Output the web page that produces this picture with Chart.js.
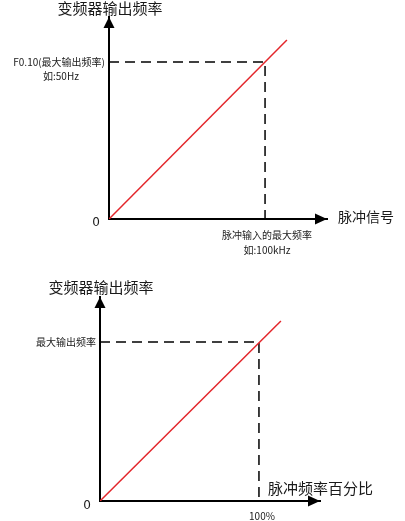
<!DOCTYPE html>
<html><head><meta charset="utf-8">
<script src="https://cdn.jsdelivr.net/npm/chart.js@4/dist/chart.umd.min.js"></script>
<style>
html,body{margin:0;padding:0;background:#fff;width:405px;height:521px;overflow:hidden}
canvas{display:block;position:absolute;left:0}
#c1{top:0}
#c2{top:260px}
</style></head>
<body>
<canvas id="c1" width="405" height="260"></canvas>
<canvas id="c2" width="405" height="261"></canvas>
<script>
// ---- Chart 1 data (pulse input kHz -> output Hz) ----
const topLineX = [0, 114];
const topLineY = [0, 57];
const topDashX = [0, 100, 100];
const topDashY = [50, 50, 0];
const topXMax = 139.7;
const topYMax = 64.3;
const topTitle = '变频器输出频率';
const topXName = '脉冲信号';
const topYRefLabels = ['F0.10(最大输出频率)', '如:50Hz'];
const topXRefLabels = ['脉冲输入的最大频率', '如:100kHz'];

// ---- Chart 2 data (pulse percent -> output) ----
const botLineX = [0, 113.8];
const botLineY = [0, 113.2];
const botDashX = [0, 100, 100];
const botDashY = [100, 100, 0];
const botXMax = 138.4;
const botYMax = 128.3;
const botTitle = '变频器输出频率';
const botXName = '脉冲频率百分比';
const botYRefLabels = ['最大输出频率'];
const botXRefLabels = ['100%'];

const originLabel = '0';
const CJK = '"Noto Sans CJK SC", "Noto Sans", sans-serif';
const TXT = '#1a1a1a';

function pts(xs, ys){ return xs.map((x,i)=>({x:x,y:ys[i]})); }

function makeChart(id, cfg){
  const annot = {
    id: 'annot',
    afterDraw(chart){
      const ctx = chart.ctx, xs = chart.scales.x, ys = chart.scales.y, a = chart.chartArea;
      const L = a.left, B = a.bottom, T = a.top, R = a.right;
      ctx.save();
      ctx.fillStyle = '#000';
      // up arrow
      ctx.beginPath();
      ctx.moveTo(L, T); ctx.lineTo(L-5.5, T+11); ctx.lineTo(L+5.5, T+11); ctx.closePath(); ctx.fill();
      // right arrow
      ctx.beginPath();
      ctx.moveTo(R, B); ctx.lineTo(R-12, B-5.5); ctx.lineTo(R-12, B+5.5); ctx.closePath(); ctx.fill();
      ctx.fillStyle = TXT;
      ctx.textBaseline = 'middle';
      // title
      ctx.font = '15px ' + CJK; ctx.textAlign = 'center';
      ctx.fillText(cfg.title, L + cfg.titleDx, T + cfg.titleDy);
      // x axis name
      ctx.font = cfg.xNameFont + ' ' + CJK; ctx.textAlign = 'left';
      ctx.fillText(cfg.xName, R + cfg.xNameDx, B + cfg.xNameDy);
      // origin
      ctx.font = '12px "DejaVu Sans", sans-serif'; ctx.textAlign = 'center';
      ctx.fillText(originLabel, xs.getPixelForValue(0) + cfg.zeroDx, ys.getPixelForValue(0) + cfg.zeroDy);
      // y reference labels
      ctx.font = '10px ' + CJK;
      const yr = ys.getPixelForValue(cfg.yRef);
      cfg.yRefLabels.forEach((t,i)=>{
        const p = cfg.yRefPos[i];
        ctx.textAlign = p[2];
        ctx.fillText(t, L + p[0], yr + p[1]);
      });
      // x reference labels
      const xr = xs.getPixelForValue(cfg.xRef);
      cfg.xRefLabels.forEach((t,i)=>{
        const p = cfg.xRefPos[i];
        ctx.textAlign = 'center';
        ctx.fillText(t, xr + p[0], B + p[1]);
      });
      ctx.restore();
    }
  };
  return new Chart(document.getElementById(id), {
    type: 'scatter',
    data: { datasets: [
      { data: pts(cfg.dashX, cfg.dashY), showLine: true, borderColor: '#000', borderWidth: 1.5,
        borderDash: [10, 6], pointRadius: 0, fill: false, order: 2 },
      { data: pts(cfg.lineX, cfg.lineY), showLine: true, borderColor: '#e3262b', borderWidth: 1.5,
        pointRadius: 0, fill: false, order: 1 }
    ]},
    options: {
      responsive: false, animation: false, devicePixelRatio: 1,
      layout: { padding: cfg.pad },
      plugins: { legend: { display: false }, tooltip: { enabled: false } },
      scales: {
        x: { type: 'linear', min: 0, max: cfg.xMax, ticks: { display: false },
             grid: { display: false, drawTicks: false }, border: { display: true, color: '#000', width: 2 } },
        y: { type: 'linear', min: 0, max: cfg.yMax, ticks: { display: false },
             grid: { display: false, drawTicks: false }, border: { display: true, color: '#000', width: 2 } }
      }
    },
    plugins: [annot]
  });
}

makeChart('c1', {
  lineX: topLineX, lineY: topLineY, dashX: topDashX, dashY: topDashY,
  xMax: topXMax, yMax: topYMax, pad: { left: 109, right: 78, top: 17, bottom: 41 },
  title: topTitle, titleDx: 1, titleDy: -9,
  xName: topXName, xNameFont: '14px', xNameDx: 11, xNameDy: -2,
  zeroDx: -13, zeroDy: 4,
  yRef: topDashY[0], yRefLabels: topYRefLabels, yRefPos: [[-4, 0, 'right'], [-48, 14, 'center']],
  xRef: topDashX[1], xRefLabels: topXRefLabels, xRefPos: [[2, 16], [2, 31]]
});

makeChart('c2', {
  lineX: botLineX, lineY: botLineY, dashX: botDashX, dashY: botDashY,
  xMax: botXMax, yMax: botYMax, pad: { left: 100, right: 85, top: 37, bottom: 20 },
  title: botTitle, titleDx: 1, titleDy: -10,
  xName: botXName, xNameFont: '15px', xNameDx: -52, xNameDy: -13,
  zeroDx: -13, zeroDy: 5,
  yRef: botDashY[0], yRefLabels: botYRefLabels, yRefPos: [[-4, 0, 'right']],
  xRef: botDashX[1], xRefLabels: botXRefLabels, xRefPos: [[3, 15]]
});
</script>
</body></html>
